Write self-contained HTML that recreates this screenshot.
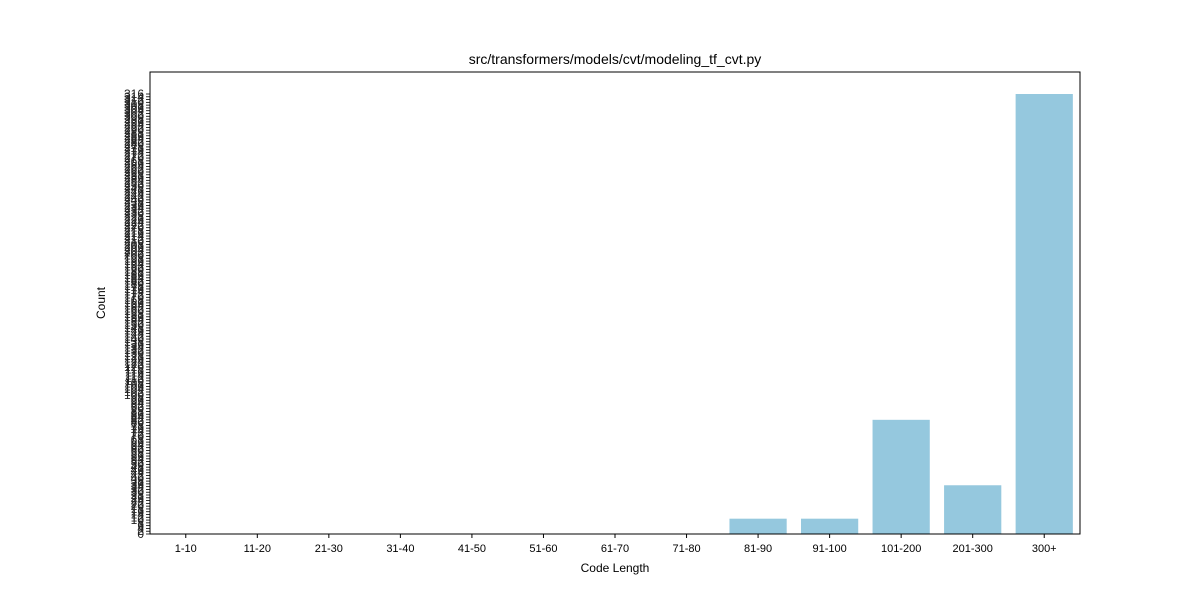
<!DOCTYPE html>
<html><head><meta charset="utf-8"><style>
body{margin:0;background:#fff;font-family:"Liberation Sans","DejaVu Sans",sans-serif}
</style></head><body>
<svg id="chart" width="1200" height="600" xmlns="http://www.w3.org/2000/svg">
<rect width="1200" height="600" fill="#fff"/>
<text x="615" y="64" font-size="14" text-anchor="middle" fill="#000">src/transformers/models/cvt/modeling_tf_cvt.py</text>
<g id="yticks"></g>
<g id="bars"></g>
<g id="xticks"></g>
<rect x="150" y="72" width="930" height="462" fill="none" stroke="#000" stroke-width="1"/>
<text x="615" y="572" font-size="12" text-anchor="middle">Code Length</text>
<text transform="translate(105,303) rotate(-90)" font-size="12" text-anchor="middle">Count</text>
</svg>
<script>
const categories=["1-10","11-20","21-30","31-40","41-50","51-60","61-70","71-80","81-90","91-100","101-200","201-300","300+"];
const counts=[0,0,0,0,0,0,0,0,11,11,82,35,316];
const NS="http://www.w3.org/2000/svg";
const L=150,R=1080,T=72,B=534;
const ymax=Math.max(...counts)*1.05;
const y=v=>B-(v/ymax)*(B-T);
const band=(R-L)/categories.length;
const x=i=>L+band*(i+0.5);
const bars=document.getElementById('bars'),xt=document.getElementById('xticks'),yt=document.getElementById('yticks');
function mk(tag,attrs,parent){const e=document.createElementNS(NS,tag);for(const k in attrs)e.setAttribute(k,attrs[k]);parent.appendChild(e);return e;}
categories.forEach((c,i)=>{
  const w=band*0.8;
  const r=mk('rect',{x:x(i)-w/2,y:y(counts[i]),width:w,height:B-y(counts[i]),fill:'#95c8de'},bars);
  
  
  mk('line',{x1:x(i),x2:x(i),y1:B,y2:B+4,stroke:'#000'},xt);
  const t=mk('text',{x:x(i),y:B+18,'font-size':11,'text-anchor':'middle'},xt);
  t.textContent=c;
  
  
});
for(let v=0;v<=Math.max(...counts);v+=2){
  const vv=(v+2>Math.max(...counts))?Math.max(...counts):v;
  mk('line',{x1:L-4,x2:L,y1:y(vv),y2:y(vv),stroke:'#000','stroke-width':0.8},yt);
  const t=mk('text',{x:L-6,y:y(vv)+4,'font-size':12,'text-anchor':'end',fill:'#222'},yt);
  t.textContent=vv;
  
  
  if(vv!==v)break;
}
</script>
</body></html>
